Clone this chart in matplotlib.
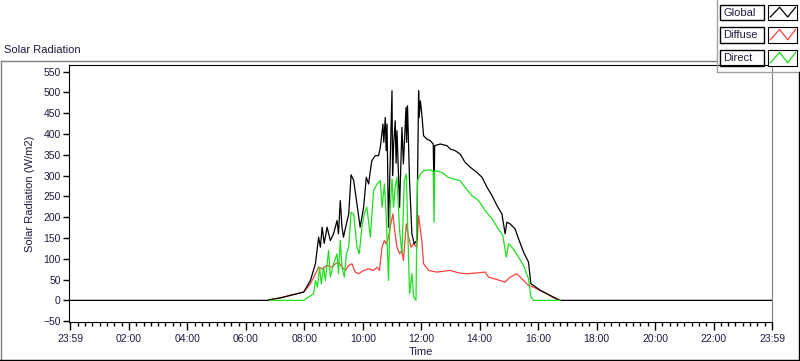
import numpy as np
import matplotlib
matplotlib.use('Agg')
import matplotlib.pyplot as plt
from matplotlib.lines import Line2D

# time in hours from the start of the day, radiation in W/m2
t_global = [0.0, 6.74, 6.84, 7.18, 7.52, 7.98, 8.21, 8.38, 8.49, 8.55, 8.61, 8.68, 8.78, 8.89,
            9.00, 9.12, 9.17, 9.23, 9.29, 9.34, 9.44, 9.52, 9.60, 9.69, 9.80, 9.91, 10.03,
            10.12, 10.20, 10.26, 10.31, 10.43, 10.54, 10.60, 10.69, 10.72, 10.77, 10.80, 10.83, 10.88,
            11.00, 11.02, 11.05, 11.11, 11.14, 11.17, 11.26, 11.34, 11.39, 11.48, 11.50, 11.53, 11.60, 11.68,
            11.76, 11.85, 11.91, 11.93, 11.97, 12.02, 12.08, 12.19, 12.31, 12.41, 12.44, 12.46,
            12.65, 12.88, 12.99, 13.16, 13.33, 13.50, 13.68, 13.90, 14.08, 14.25, 14.42,
            14.59, 14.76, 14.87, 14.93, 15.04, 15.21, 15.33, 15.50, 15.67, 15.75, 15.84,
            16.07, 16.30, 16.52, 16.75, 24.0]
v_global = [0, 0, 2, 6, 12, 20, 48, 88, 152, 128, 176, 137, 176, 144,
            160, 192, 160, 240, 176, 152, 184, 208, 302, 288, 232, 176, 224,
            296, 280, 312, 336, 348, 348, 368, 424, 380, 440, 360, 424, 176,
            504, 300, 368, 432, 330, 408, 224, 416, 328, 464, 380, 468, 288, 160,
            136, 144, 504, 440, 480, 448, 396, 388, 384, 376, 256, 372,
            376, 372, 364, 360, 352, 332, 320, 308, 296, 272, 252,
            228, 208, 160, 188, 184, 172, 148, 116, 92, 40, 36,
            24, 16, 8, 0, 0]

t_diffuse = [6.74, 6.84, 7.18, 7.52, 7.98, 8.21, 8.38, 8.49, 8.61, 8.78, 8.95, 9.06,
             9.17, 9.29, 9.40, 9.52, 9.63, 9.74, 9.86, 10.03, 10.20, 10.37, 10.49, 10.57,
             10.66, 10.74, 10.80, 10.88, 10.96, 11.03, 11.09, 11.17, 11.26, 11.34, 11.39,
             11.49, 11.57, 11.65, 11.74, 11.85, 11.91, 12.02, 12.08, 12.25, 12.53, 12.99,
             13.28, 13.56, 13.90, 14.19, 14.30, 14.59, 14.87, 15.04, 15.27, 15.44, 15.67,
             15.84, 16.07, 16.30, 16.52, 16.75]
v_diffuse = [0, 2, 6, 12, 20, 40, 64, 80, 76, 84, 80, 88,
             92, 80, 72, 84, 88, 68, 64, 72, 76, 72, 80, 72,
             128, 144, 136, 152, 184, 208, 168, 128, 112, 120, 96,
             184, 152, 128, 136, 128, 204, 144, 88, 72, 68, 72,
             66, 64, 66, 68, 56, 50, 44, 56, 64, 52, 36,
             32, 24, 16, 6, 0]

t_direct = [6.84, 7.98, 8.14, 8.32, 8.38, 8.45, 8.52, 8.58, 8.66, 8.72, 8.78, 8.83, 8.89,
            9.00, 9.12, 9.17, 9.23, 9.29, 9.37, 9.44, 9.52, 9.60, 9.69, 9.80, 9.88, 9.97,
            10.05, 10.14, 10.26, 10.37, 10.49, 10.60, 10.66, 10.74, 10.80, 10.88, 10.94,
            11.00, 11.05, 11.11, 11.17, 11.26, 11.34, 11.42, 11.49, 11.54, 11.60, 11.68,
            11.74, 11.82, 11.87, 11.97, 12.08, 12.31, 12.41, 12.44, 12.46, 12.70, 12.93,
            13.10, 13.33, 13.50, 13.73, 13.96, 14.19, 14.42, 14.64, 14.79, 14.91, 14.99,
            15.15, 15.33, 15.50, 15.67, 15.75, 15.84, 16.75]
v_direct = [0, 0, 8, 16, 48, 32, 80, 40, 80, 48, 88, 120, 56,
            88, 112, 64, 144, 80, 56, 112, 128, 212, 208, 128, 112, 176,
            208, 224, 152, 264, 280, 288, 224, 280, 208, 48, 224,
            292, 224, 272, 296, 168, 112, 288, 304, 168, 16, 64,
            8, 0, 288, 304, 312, 314, 310, 188, 312, 308, 296,
            292, 288, 272, 252, 240, 216, 196, 172, 156, 104, 136,
            124, 104, 84, 52, 8, 0, 0]

tick_hours = list(range(0, 25, 2))
tick_labels = ['23:59', '02:00', '04:00', '06:00', '08:00', '10:00', '12:00',
               '14:00', '16:00', '18:00', '20:00', '22:00', '23:59']
series_names = ['Global', 'Diffuse', 'Direct']
series_colors = ['black', '#ff4040', '#1ee01e']

txt = '#1c1c3c'
plt.rcParams['font.family'] = ['Liberation Sans', 'DejaVu Sans']

fig = plt.figure(figsize=(8, 3.61), dpi=100)
W, H = 800., 361.

# outer frame of the graph panel
fig.add_artist(Line2D([1/W, 1/W], [1 - 61/H, 1 - 359/H], color='#808080', lw=1))
fig.add_artist(Line2D([1/W, 717/W], [1 - 61/H, 1 - 61/H], color='#808080', lw=1))
fig.add_artist(Line2D([717/W, 717/W], [1.0, 1 - 72/H], color='#a0a0a0', lw=1))
fig.add_artist(Line2D([717/W, 1.0], [1 - 72/H, 1 - 72/H], color='#a0a0a0', lw=1))
fig.add_artist(Line2D([0, 1], [1 - 360/H, 1 - 360/H], color='black', lw=1))
fig.add_artist(Line2D([799/W, 799/W], [1 - 72/H, 1 - 360/H], color='black', lw=1))

fig.text(4/W, 1 - 50/H, 'Solar Radiation', fontsize=8, color=txt, va='center', ha='left')

ax = fig.add_axes([69/W, 1 - 322/H, 703/W, 257/H])
ax.plot(t_diffuse, v_diffuse, color=series_colors[1], lw=0.9)
ax.plot(t_global, v_global, color=series_colors[0], lw=0.9)
ax.plot(t_direct, v_direct, color=series_colors[2], lw=0.9)

ax.set_xlim(-0.05, 24.0)
ax.set_ylim(-52, 566)
ax.set_yticks(np.arange(-50, 551, 50))
ax.set_xticks(tick_hours)
ax.set_xticklabels(tick_labels)
ax.set_xticks(np.arange(0, 24.01, 0.25), minor=True)
ax.tick_params(axis='y', length=4, width=1, pad=2, labelsize=7.5, labelcolor=txt)
ax.tick_params(axis='x', which='major', length=6, width=1, pad=3, labelsize=7.5, labelcolor=txt)
ax.tick_params(axis='x', which='minor', length=3, width=1)
for side in ['left', 'bottom', 'top']:
    ax.spines[side].set_color('black')
ax.spines['right'].set_color('#808080')
ax.set_ylabel('Solar Radiation (W/m2)', fontsize=8, color=txt, labelpad=6)
ax.set_xlabel('Time', fontsize=8, color=txt, labelpad=2)

# legend panel: a label box and a sample box per series
rows = [(5, 20), (27, 43), (50, 66)]
for name, col, (y0, y1) in zip(series_names, series_colors, rows):
    fig.text(723/W, 1 - (y0 + y1) / 2 / H, name, fontsize=8, color=txt, va='center', ha='left')
    fig.add_artist(plt.Rectangle((720/W, 1 - y1/H), 44/W, (y1 - y0)/H, fill=False,
                                 ec='black', lw=1, transform=fig.transFigure))
    sa = fig.add_axes([768/W, 1 - y1/H, 29/W, (y1 - y0)/H])
    sa.plot([0.08, 0.4, 0.68, 0.95], [0.2, 0.85, 0.2, 0.85], color=col, lw=0.9)
    sa.set_xlim(0, 1)
    sa.set_ylim(0, 1)
    sa.set_xticks([])
    sa.set_yticks([])
    for s in sa.spines.values():
        s.set_color('black')

fig.savefig('out.png', dpi=100)
